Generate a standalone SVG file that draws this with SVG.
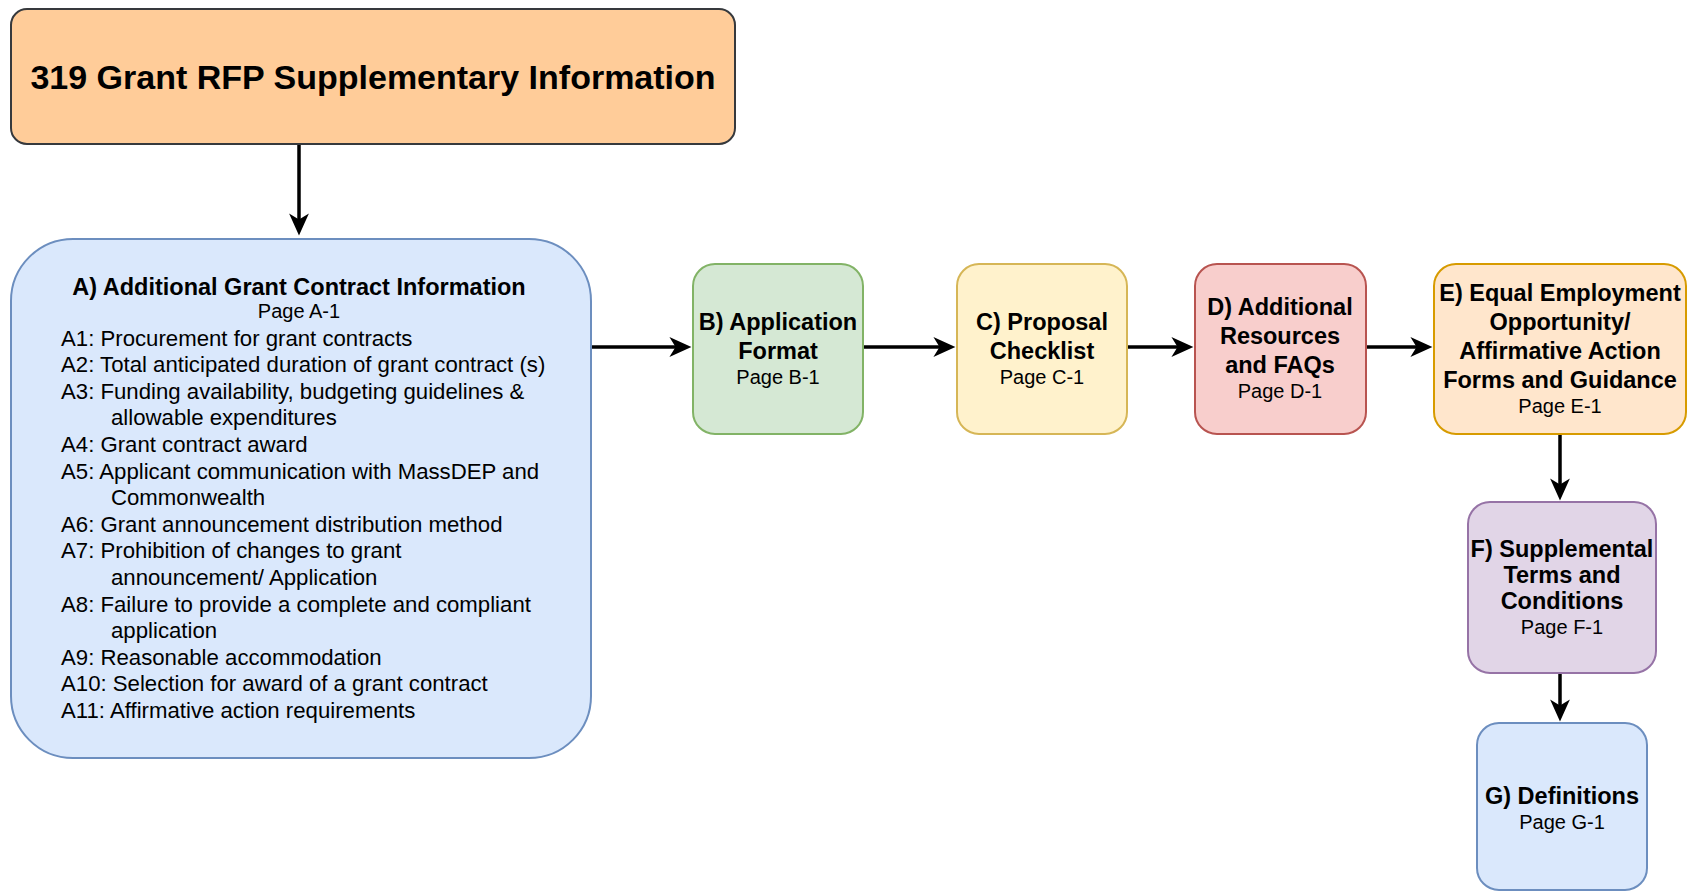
<svg xmlns="http://www.w3.org/2000/svg" width="1688" height="892" viewBox="0 0 1688 892">
<defs>
<style>
.t{font-family:"Liberation Sans",Arial,sans-serif;fill:#000}
.b{font-weight:bold;font-size:23.5px;text-anchor:middle}
.p{font-size:20px;text-anchor:middle}
.l{font-size:22.2px}
.e{stroke:#000;stroke-width:3.5;fill:none;marker-end:url(#ah)}
.n{stroke-width:2}
</style>
<marker id="ah" viewBox="0 0 10 10" refX="8" refY="5" markerWidth="22" markerHeight="22" markerUnits="userSpaceOnUse" orient="auto" overflow="visible">
<path d="M0,0.5 L10,5 L0,9.5 L2.8,5 Z" fill="#000"/>
</marker>
</defs>
<rect width="1688" height="892" fill="#fff"/>
<g id="edges">
<path class="e" d="M299,144 V231"/>
<path class="e" d="M591,347 H687"/>
<path class="e" d="M863,347 H951"/>
<path class="e" d="M1127,347 H1189"/>
<path class="e" d="M1366,347 H1428"/>
<path class="e" d="M1560,434 V496"/>
<path class="e" d="M1560,673 V717"/>
</g>
<g id="root">
<rect class="n" x="11" y="9" width="724" height="135" rx="16" fill="#ffcc99" stroke="#36393d"/>
<text class="t" x="373" y="89" font-size="34" font-weight="bold" text-anchor="middle">319 Grant RFP Supplementary Information</text>
</g>
<g id="nodeA">
<rect class="n" x="11" y="239" width="580" height="519" rx="62" fill="#dae8fc" stroke="#6c8ebf"/>
<text class="t b" x="299" y="295">A) Additional Grant Contract Information</text>
<text class="t p" x="299" y="318">Page A-1</text>
<text class="t l">
<tspan x="61" y="345.5">A1: Procurement for grant contracts</tspan>
<tspan x="61" y="372.1">A2: Total anticipated duration of grant contract (s)</tspan>
<tspan x="61" y="398.7">A3: Funding availability, budgeting guidelines &amp;</tspan>
<tspan x="111" y="425.3">allowable expenditures</tspan>
<tspan x="61" y="451.9">A4: Grant contract award</tspan>
<tspan x="61" y="478.5">A5: Applicant communication with MassDEP and</tspan>
<tspan x="111" y="505.1">Commonwealth</tspan>
<tspan x="61" y="531.7">A6: Grant announcement distribution method</tspan>
<tspan x="61" y="558.3">A7: Prohibition of changes to grant</tspan>
<tspan x="111" y="584.9">announcement/ Application</tspan>
<tspan x="61" y="611.5">A8: Failure to provide a complete and compliant</tspan>
<tspan x="111" y="638.1">application</tspan>
<tspan x="61" y="664.7">A9: Reasonable accommodation</tspan>
<tspan x="61" y="691.3">A10: Selection for award of a grant contract</tspan>
<tspan x="61" y="717.9">A11: Affirmative action requirements</tspan>
</text>
</g>
<g id="nodeB">
<rect class="n" x="693" y="264" width="170" height="170" rx="22" fill="#d5e8d4" stroke="#82b366"/>
<text class="t b" x="778" y="330">B) Application</text>
<text class="t b" x="778" y="359">Format</text>
<text class="t p" x="778" y="384">Page B-1</text>
</g>
<g id="nodeC">
<rect class="n" x="957" y="264" width="170" height="170" rx="22" fill="#fff2cc" stroke="#d6b656"/>
<text class="t b" x="1042" y="330">C) Proposal</text>
<text class="t b" x="1042" y="359">Checklist</text>
<text class="t p" x="1042" y="384">Page C-1</text>
</g>
<g id="nodeD">
<rect class="n" x="1195" y="264" width="171" height="170" rx="22" fill="#f8cecc" stroke="#b85450"/>
<text class="t b" x="1280" y="315">D) Additional</text>
<text class="t b" x="1280" y="344">Resources</text>
<text class="t b" x="1280" y="373">and FAQs</text>
<text class="t p" x="1280" y="398">Page D-1</text>
</g>
<g id="nodeE">
<rect class="n" x="1434" y="264" width="252" height="170" rx="22" fill="#ffe6cc" stroke="#d79b00"/>
<text class="t b" x="1560" y="301">E) Equal Employment</text>
<text class="t b" x="1560" y="330">Opportunity/</text>
<text class="t b" x="1560" y="359">Affirmative Action</text>
<text class="t b" x="1560" y="388">Forms and Guidance</text>
<text class="t p" x="1560" y="413">Page E-1</text>
</g>
<g id="nodeF">
<rect class="n" x="1468" y="502" width="188" height="171" rx="22" fill="#e1d5e7" stroke="#9673a6"/>
<text class="t b" x="1562" y="557">F) Supplemental</text>
<text class="t b" x="1562" y="583">Terms and</text>
<text class="t b" x="1562" y="609">Conditions</text>
<text class="t p" x="1562" y="634">Page F-1</text>
</g>
<g id="nodeG">
<rect class="n" x="1477" y="723" width="170" height="167" rx="22" fill="#dae8fc" stroke="#6c8ebf"/>
<text class="t b" x="1562" y="804">G) Definitions</text>
<text class="t p" x="1562" y="829">Page G-1</text>
</g>
</svg>
